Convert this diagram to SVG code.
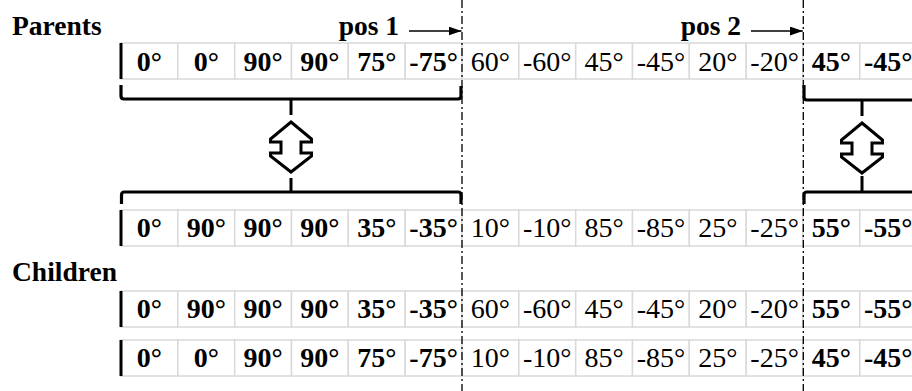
<svg xmlns="http://www.w3.org/2000/svg" width="912" height="391" viewBox="0 0 912 391">
<style>
text{font-family:"Liberation Serif","Times New Roman",serif;font-size:28px;fill:#000}
.b{font-weight:bold}
.c{text-anchor:middle}
.lbl{font-size:27.5px}
.cell{fill:#fff;stroke:#d9d9d9;stroke-width:1.5}
.bar{stroke:#000;stroke-width:3}
.br{fill:none;stroke:#000;stroke-width:3.2;stroke-linejoin:round;stroke-linecap:butt}
.tick{stroke:#000;stroke-width:3}
.dbl{fill:#fff;stroke:#000;stroke-width:3;stroke-linejoin:miter}
.dash{stroke:#000;stroke-width:1.3;stroke-dasharray:8 3 2 3}
.arr{stroke:#000;stroke-width:1.3}
</style>
<defs>
<marker id="ah" viewBox="0 0 13 9" refX="13" refY="4.5" markerWidth="13" markerHeight="9" markerUnits="userSpaceOnUse" orient="auto">
<path d="M0,0 L13,4.5 L0,9 Z" fill="#000"/>
</marker>
<g id="cells">
<rect class="cell" x="121" y="0" width="56.8" height="36"/>
<rect class="cell" x="177.8" y="0" width="56.9" height="36"/>
<rect class="cell" x="234.7" y="0" width="56.8" height="36"/>
<rect class="cell" x="291.5" y="0" width="56.8" height="36"/>
<rect class="cell" x="348.3" y="0" width="56.9" height="36"/>
<rect class="cell" x="405.2" y="0" width="56.8" height="36"/>
<rect class="cell" x="462" y="0" width="56.8" height="36"/>
<rect class="cell" x="518.8" y="0" width="56.9" height="36"/>
<rect class="cell" x="575.7" y="0" width="56.8" height="36"/>
<rect class="cell" x="632.5" y="0" width="56.8" height="36"/>
<rect class="cell" x="689.3" y="0" width="56.9" height="36"/>
<rect class="cell" x="746.2" y="0" width="56.8" height="36"/>
<rect class="cell" x="803" y="0" width="56.8" height="36"/>
<rect class="cell" x="859.8" y="0" width="56.9" height="36"/>
<line class="bar" x1="121" y1="0" x2="121" y2="36"/>
</g>
<path id="dbl" class="dbl" d="M0,0 L20.5,17 L20.5,20 L10,20 L10,31 L20.5,31 L20.5,34 L0,50 L-20.5,34 L-20.5,31 L-10,31 L-10,20 L-20.5,20 L-20.5,17 Z"/>
</defs>

<text class="b lbl" x="12" y="35">Parents</text>
<text class="b lbl" x="12" y="281">Children</text>

<g id="row1">
<use href="#cells" y="43"/>
<text class="b c" x="149.4" y="71">0°</text>
<text class="b c" x="206.3" y="71">0°</text>
<text class="b c" x="263.1" y="71">90°</text>
<text class="b c" x="319.9" y="71">90°</text>
<text class="b c" x="376.8" y="71">75°</text>
<text class="b c" x="433.6" y="71">-75°</text>
<text class="c" x="490.4" y="71">60°</text>
<text class="c" x="547.3" y="71">-60°</text>
<text class="c" x="604.1" y="71">45°</text>
<text class="c" x="660.9" y="71">-45°</text>
<text class="c" x="717.8" y="71">20°</text>
<text class="c" x="774.6" y="71">-20°</text>
<text class="b c" x="831.4" y="71">45°</text>
<text class="b c" x="888.3" y="71">-45°</text>
</g>

<g id="row2">
<use href="#cells" y="210"/>
<text class="b c" x="149.4" y="237">0°</text>
<text class="b c" x="206.3" y="237">90°</text>
<text class="b c" x="263.1" y="237">90°</text>
<text class="b c" x="319.9" y="237">90°</text>
<text class="b c" x="376.8" y="237">35°</text>
<text class="b c" x="433.6" y="237">-35°</text>
<text class="c" x="490.4" y="237">10°</text>
<text class="c" x="547.3" y="237">-10°</text>
<text class="c" x="604.1" y="237">85°</text>
<text class="c" x="660.9" y="237">-85°</text>
<text class="c" x="717.8" y="237">25°</text>
<text class="c" x="774.6" y="237">-25°</text>
<text class="b c" x="831.4" y="237">55°</text>
<text class="b c" x="888.3" y="237">-55°</text>
</g>

<g id="row3">
<use href="#cells" y="291"/>
<text class="b c" x="149.4" y="318">0°</text>
<text class="b c" x="206.3" y="318">90°</text>
<text class="b c" x="263.1" y="318">90°</text>
<text class="b c" x="319.9" y="318">90°</text>
<text class="b c" x="376.8" y="318">35°</text>
<text class="b c" x="433.6" y="318">-35°</text>
<text class="c" x="490.4" y="318">60°</text>
<text class="c" x="547.3" y="318">-60°</text>
<text class="c" x="604.1" y="318">45°</text>
<text class="c" x="660.9" y="318">-45°</text>
<text class="c" x="717.8" y="318">20°</text>
<text class="c" x="774.6" y="318">-20°</text>
<text class="b c" x="831.4" y="318">55°</text>
<text class="b c" x="888.3" y="318">-55°</text>
</g>

<g id="row4">
<use href="#cells" y="340"/>
<text class="b c" x="149.4" y="367">0°</text>
<text class="b c" x="206.3" y="367">0°</text>
<text class="b c" x="263.1" y="367">90°</text>
<text class="b c" x="319.9" y="367">90°</text>
<text class="b c" x="376.8" y="367">75°</text>
<text class="b c" x="433.6" y="367">-75°</text>
<text class="c" x="490.4" y="367">10°</text>
<text class="c" x="547.3" y="367">-10°</text>
<text class="c" x="604.1" y="367">85°</text>
<text class="c" x="660.9" y="367">-85°</text>
<text class="c" x="717.8" y="367">25°</text>
<text class="c" x="774.6" y="367">-25°</text>
<text class="b c" x="831.4" y="367">45°</text>
<text class="b c" x="888.3" y="367">-45°</text>
</g>

<g id="swap1">
<path class="br" d="M121,85 L121,96 Q121,99 124,99 L458,99 Q461,99 461,96 L461,86"/>
<line class="tick" x1="291" y1="99" x2="291" y2="115"/>
<use href="#dbl" x="291" y="122"/>
<line class="tick" x1="291" y1="178" x2="291" y2="192"/>
<path class="br" d="M121.5,204 L121.5,195 Q121.5,192 124.5,192 L458,192 Q461,192 461,195 L461,204"/>
</g>

<g id="swap2">
<path class="br" d="M804,85 L804,97 Q804,100 807,100 L914,100"/>
<line class="tick" x1="862" y1="100" x2="862" y2="116"/>
<use href="#dbl" x="862" y="123"/>
<line class="tick" x1="862" y1="176" x2="862" y2="192"/>
<path class="br" d="M804,204 L804,195 Q804,192 807,192 L914,192"/>
</g>

<g id="connectors">
<line class="dash" x1="462" y1="0" x2="462" y2="391"/>
<line class="dash" x1="803.3" y1="0" x2="803.3" y2="391"/>
<text class="b lbl" x="399" y="35" text-anchor="end">pos 1</text>
<line class="arr" x1="409" y1="31" x2="461.5" y2="31" marker-end="url(#ah)"/>
<text class="b lbl" x="741" y="35" text-anchor="end">pos 2</text>
<line class="arr" x1="751" y1="31" x2="802.8" y2="31" marker-end="url(#ah)"/>
</g>
</svg>
